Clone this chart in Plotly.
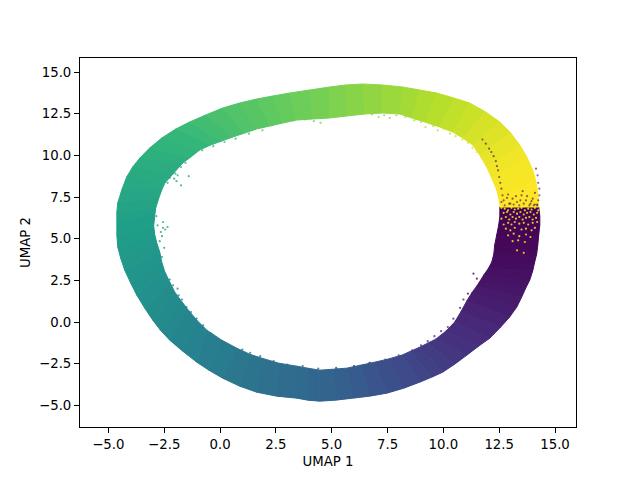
import plotly.graph_objects as go
from plotly.colors import sample_colorscale

# Ring band, station by station clockwise from the seam
outer_x = [14.27,14.32,14.32,14.27,14.23,14.18,14.09,14.00,13.87,13.69,13.51,13.29,12.97,12.57,12.08,11.59,11.05,10.51,9.97,9.48,8.94,8.23,7.47,6.70,5.94,5.18,4.47,3.93,3.44,2.54,1.64,0.88,0.12,-0.50,-1.04,-1.67,-2.25,-2.67,-3.01,-3.37,-3.73,-4.00,-4.27,-4.45,-4.58,-4.62,-4.62,-4.62,-4.58,-4.40,-4.18,-3.91,-3.59,-3.15,-2.61,-1.98,-1.36,-0.64,0.12,0.88,1.64,2.36,3.12,4.02,4.91,5.63,6.39,7.29,8.18,8.94,9.70,10.47,11.18,11.90,12.53,13.02,13.42,13.74,14.00,14.14,14.23,14.27]
outer_y = [6.90,6.36,5.82,5.22,4.62,4.08,3.60,3.06,2.52,2.04,1.50,0.90,0.30,-0.30,-0.97,-1.44,-1.99,-2.53,-3.01,-3.31,-3.61,-3.97,-4.27,-4.45,-4.57,-4.69,-4.75,-4.69,-4.57,-4.45,-4.21,-3.85,-3.37,-2.89,-2.41,-1.75,-1.09,-0.49,0.11,0.83,1.62,2.34,3.12,3.84,4.50,5.22,6.12,6.60,7.14,7.92,8.70,9.30,9.84,10.44,11.04,11.58,12.00,12.42,12.84,13.14,13.38,13.56,13.74,13.92,14.10,14.22,14.28,14.22,14.10,13.92,13.74,13.44,13.14,12.60,12.00,11.34,10.62,9.90,9.12,8.46,7.74,6.90]
inner_x = [12.53,12.53,12.48,12.39,12.30,12.26,12.17,12.03,11.81,11.59,11.50,11.27,11.05,10.78,10.51,10.11,9.66,9.30,8.94,8.54,8.14,7.51,6.93,6.30,5.67,5.09,4.47,3.93,3.44,2.63,1.87,1.33,0.75,0.08,-0.59,-1.04,-1.49,-1.76,-2.03,-2.25,-2.47,-2.61,-2.70,-2.83,-2.92,-2.97,-2.92,-2.88,-2.74,-2.61,-2.47,-2.07,-1.67,-1.31,-0.91,-0.42,0.08,0.57,1.11,1.64,2.23,2.81,3.44,4.15,4.91,5.67,6.48,7.29,8.05,8.59,9.17,9.84,10.42,10.87,11.32,11.63,11.94,12.17,12.39,12.48,12.53,12.53]
inner_y = [6.90,6.36,5.82,5.22,4.62,4.08,3.60,3.24,2.82,2.34,2.16,1.74,1.26,0.60,0.00,-0.55,-1.03,-1.27,-1.51,-1.75,-1.99,-2.23,-2.41,-2.59,-2.77,-2.83,-2.89,-2.77,-2.65,-2.47,-2.17,-1.93,-1.57,-1.09,-0.49,0.11,0.83,1.31,1.80,2.40,3.00,3.60,4.20,4.74,5.22,5.76,6.42,6.84,7.44,7.92,8.34,8.94,9.54,9.90,10.32,10.62,10.86,11.10,11.34,11.58,11.76,11.94,12.12,12.18,12.24,12.36,12.48,12.54,12.48,12.24,12.00,11.70,11.40,11.04,10.62,10.02,9.30,8.64,7.92,7.44,7.08,6.90]
colour_value = [0,.005,.01,.015,.02,.025,.03,.04,.05,.055,.065,.075,.09,.105,.12,.135,.15,.17,.185,.20,.215,.235,.255,.275,.295,.31,.325,.335,.345,.36,.375,.39,.405,.42,.435,.45,.465,.475,.485,.495,.505,.515,.525,.535,.545,.555,.565,.575,.585,.595,.605,.615,.625,.64,.655,.67,.685,.70,.715,.73,.74,.755,.77,.78,.795,.81,.825,.84,.855,.87,.885,.90,.915,.93,.945,.96,.975,.985,.99,.995,1,1]

# Stray dots
yellow_x = [12.6,12.75,12.9,13.05,13.2,13.35,13.5,13.65,13.8,13.95,14.1,14.25,12.7,12.85,13.0,13.15,13.3,13.45,13.6,13.75,13.9,14.05,14.2,12.6,12.8,12.95,13.1,13.25,13.4,13.55,13.7,13.85,14.0,14.15,12.7,12.9,13.05,13.2,13.4,13.6,13.8,14.0,14.2,12.8,13.0,13.2,13.5,13.7,13.95,14.1,12.9,13.15,13.4,13.7,13.9,13.1,13.35,13.65,13.3,13.6]
yellow_y = [6.85,6.8,6.7,6.85,6.75,6.8,6.85,6.7,6.8,6.75,6.85,6.7,6.55,6.6,6.45,6.6,6.5,6.6,6.45,6.55,6.6,6.45,6.55,6.2,6.3,6.15,6.3,6.2,6.3,6.15,6.25,6.3,6.15,6.25,5.85,5.95,5.85,6.0,5.9,5.95,5.85,5.95,6.0,5.6,5.5,5.65,5.55,5.6,5.5,5.65,5.2,5.3,5.15,5.25,5.1,4.85,4.9,4.8,4.3,4.15]
purple_x = [14.3,14.25,14.3,14.22,14.15,14.25,14.1,14.0,14.2,13.9,13.7,13.5,13.3,13.1,12.9,12.7,12.6,12.55,12.5,12.45,12.4,12.35,12.25,12.15,12.05,11.9,11.75,13.85,13.6,13.4,13.15,12.95,12.75,14.05,13.25,13.55,14.1,13.75,13.0,12.65,12.6,12.85,13.45,13.95,14.2]
purple_y = [8.0,8.35,7.6,8.8,9.2,7.3,7.75,7.4,7.05,7.1,7.3,7.6,7.2,7.4,7.65,7.3,8.0,8.35,8.7,9.1,9.35,9.65,9.95,10.2,10.4,10.7,10.95,7.0,7.1,7.0,7.05,7.1,7.0,7.0,7.55,7.85,7.05,7.55,7.1,7.6,7.2,7.45,7.3,7.25,7.0]
# Fringe dots on the inner and outer edge
edge_x = [-2.55,-2.65,-2.45,-2.8,-2.6,-2.35,-2.7,-2.55,-2.85,-2.5,-2.75,-2.6,-2.9,-2.7,-2.45,-2.25,-2.1,-1.9,-1.85,-1.7,-1.5,-1.3,-1.05,-0.75,-0.4,-0.2,0.1,0.35,0.6,1.0,1.35,1.8,2.4,3.0,3.7,4.4,5.2,6.0,6.7,7.5,8.0,8.5,9.2,9.6,10.0,10.5,11.0,11.4,11.65,11.8,11.5,11.35,11.1,10.9,10.75,10.45,10.2,9.9,9.6,9.3,9.0,8.6,8.0,7.4,6.7,6.0,5.2,-2.3,-2.2,-2.0,-1.75,-1.55,-2.35,-2.05,-1.9,-2.15,-2.25,-1.95,-1.75,-1.4]
edge_y = [5.65,5.4,5.55,5.8,5.15,5.7,4.85,6.0,6.35,4.45,4.2,3.9,3.4,3.15,2.85,2.55,2.2,2.0,1.6,1.35,0.9,0.6,0.2,-0.2,-0.7,-1.0,-1.2,-1.35,-1.55,-1.65,-1.85,-2.05,-2.35,-2.55,-2.65,-2.8,-2.75,-2.65,-2.45,-2.3,-2.15,-1.85,-1.45,-1.3,-0.95,-0.55,0.1,0.7,1.2,2.2,2.6,2.9,1.7,1.35,0.85,0.2,-0.3,-0.55,-0.85,-1.15,-1.4,-1.7,-2.0,-2.25,-2.45,-2.65,-2.8,9.25,9.05,8.9,9.3,9.55,8.35,8.6,8.8,8.95,8.65,8.45,8.2,8.75]
edge_c = [.565,.565,.56,.565,.555,.56,.545,.57,.58,.53,.525,.52,.51,.5,.495,.485,.48,.475,.465,.46,.45,.44,.43,.42,.41,.405,.40,.395,.39,.38,.375,.365,.35,.34,.33,.32,.30,.285,.27,.25,.24,.22,.19,.18,.16,.14,.10,.085,.07,.05,.045,.04,.07,.085,.09,.11,.125,.135,.15,.165,.18,.20,.23,.25,.27,.29,.31,.60,.605,.61,.62,.63,.585,.60,.61,.605,.60,.595,.59,.605]
top_x = [-1.2,-0.8,-0.3,0.2,0.7,1.3,1.9,2.3,2.9,3.3,3.8,4.2,4.5,6.8,7.1,7.35,7.6,7.9,8.3,8.7,9.0,9.2,9.55,9.75,10.0,10.3,10.55,10.85,11.1,11.3,11.5,11.7,11.85,12.05]
top_y = [10.1,10.3,10.55,10.8,11.0,11.3,11.5,11.8,12.0,12.1,12.15,12.05,11.95,12.45,12.3,12.4,12.25,12.4,12.3,12.1,12.0,11.7,11.75,11.5,11.6,11.3,11.15,10.95,10.75,10.45,10.2,9.9,9.6,9.3]
top_c = [.64,.65,.66,.675,.69,.705,.72,.735,.75,.76,.775,.785,.79,.83,.84,.845,.85,.855,.865,.875,.885,.89,.90,.905,.91,.92,.925,.935,.945,.95,.96,.97,.975,.98]

tick_step = 2.5

def col(v):
    return sample_colorscale("Viridis", [v])[0]

fig = go.Figure()
for i in range(len(outer_x) - 1):
    c = col((colour_value[i] + colour_value[i + 1]) / 2)
    fig.add_trace(go.Scatter(
        x=[outer_x[i], outer_x[i + 1], inner_x[i + 1], inner_x[i], outer_x[i]],
        y=[outer_y[i], outer_y[i + 1], inner_y[i + 1], inner_y[i], outer_y[i]],
        mode="lines", fill="toself", fillcolor=c, line=dict(color=c, width=1),
        showlegend=False, hoverinfo="skip"))

def dots(x, y, colours, opacity=1.0):
    fig.add_trace(go.Scatter(x=x, y=y, mode="markers",
                             marker=dict(size=2.2, color=colours, opacity=opacity, line=dict(width=0)),
                             showlegend=False, hoverinfo="skip"))

dots(edge_x, edge_y, [col(v) for v in edge_c], 0.8)
dots(top_x, top_y, [col(v) for v in top_c], 0.8)
dots(purple_x, purple_y, [col(0.0)] * len(purple_x), 0.6)
dots(yellow_x, yellow_y, [col(1.0)] * len(yellow_x), 0.85)

axis = dict(showgrid=False, zeroline=False, showline=True, mirror=True,
            linecolor="black", linewidth=1, ticks="outside", ticklen=5,
            tickwidth=1, tickcolor="black", dtick=tick_step, tick0=-5,
            tickformat=".1f", title_standoff=5,
            tickfont=dict(family="DejaVu Sans", size=13.3, color="black"),
            title_font=dict(family="DejaVu Sans", size=13.3, color="black"))
fig.update_layout(
    width=632, height=472, margin=dict(l=72, r=64, t=50, b=53),
    paper_bgcolor="white", plot_bgcolor="white",
    xaxis=dict(axis, title_text="UMAP 1", range=[-6.27, 15.94]),
    yaxis=dict(axis, title_text="UMAP 2", range=[-6.3, 15.84]),
)
fig.write_html("out.html")
